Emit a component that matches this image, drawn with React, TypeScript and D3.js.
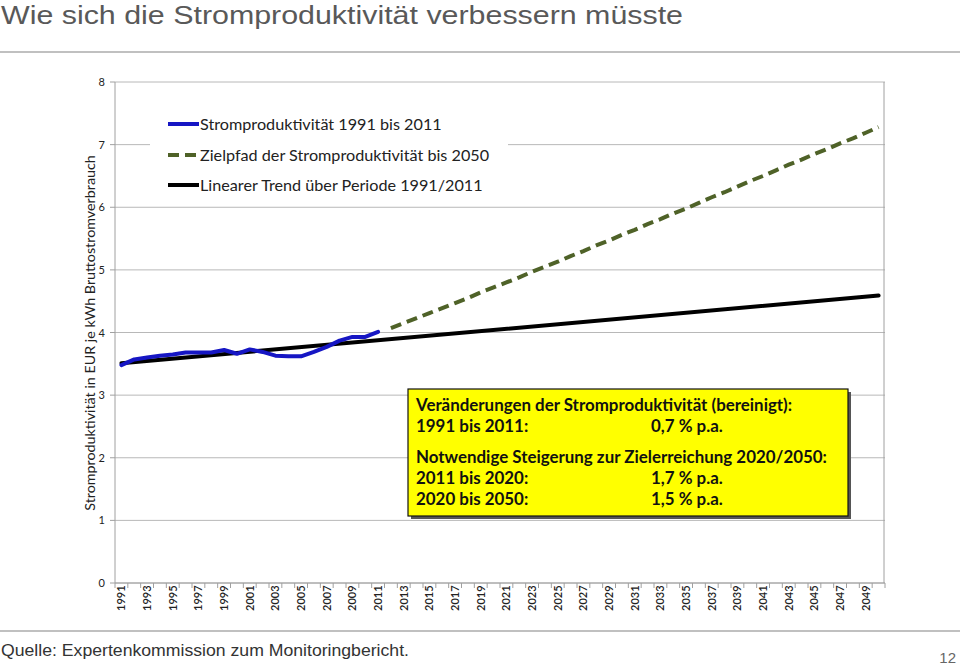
import React from "react";
import * as d3 from "d3";

const years: number[] = d3.range(1991, 2051);
const yTicks = [0, 1, 2, 3, 4, 5, 6, 7, 8];
const xLabelYears = years.filter((y) => (y - 1991) % 2 === 0);

const actualYears = [1991, 1992, 1993, 1994, 1995, 1996, 1997, 1998, 1999, 2000, 2001, 2002, 2003, 2004, 2005, 2006, 2007, 2008, 2009, 2010, 2011];
const actualValues = [3.48, 3.57, 3.6, 3.63, 3.65, 3.68, 3.68, 3.68, 3.72, 3.66, 3.73, 3.69, 3.63, 3.62, 3.62, 3.69, 3.77, 3.87, 3.93, 3.93, 4.01];

const targetYears = [2012, 2013, 2014, 2015, 2016, 2017, 2018, 2019, 2020, 2021, 2022, 2023, 2024, 2025, 2026, 2027, 2028, 2029, 2030, 2031, 2032, 2033, 2034, 2035, 2036, 2037, 2038, 2039, 2040, 2041, 2042, 2043, 2044, 2045, 2046, 2047, 2048, 2049, 2050];
const targetValues = [4.07, 4.15, 4.23, 4.31, 4.39, 4.47, 4.55, 4.64, 4.72, 4.8, 4.88, 4.97, 5.05, 5.13, 5.22, 5.3, 5.39, 5.47, 5.56, 5.64, 5.73, 5.81, 5.9, 5.98, 6.07, 6.16, 6.24, 6.33, 6.42, 6.5, 6.59, 6.68, 6.76, 6.85, 6.93, 7.02, 7.1, 7.19, 7.28];

const trendYears = [1991, 2050];
const trendValues = [3.51, 4.59];

const legendLabels = [
  "Stromproduktivität 1991 bis 2011",
  "Zielpfad der Stromproduktivität bis 2050",
  "Linearer Trend über Periode 1991/2011",
];

const boxLines: [string, string][] = [
  ["Veränderungen der Stromproduktivität (bereinigt):", ""],
  ["1991 bis 2011:", "0,7 % p.a."],
  ["Notwendige Steigerung zur Zielerreichung 2020/2050:", ""],
  ["2011 bis 2020:", "1,7 % p.a."],
  ["2020 bis 2050:", "1,5 % p.a."],
];

const BLUE = "#1616c4";
const GREEN = "#4f6228";
const FONT = "Lato, 'Open Sans', sans-serif";

export default function App() {
  const W = 960, H = 668;
  const left = 115, right = 885, top = 82, bottom = 583;
  const x = d3.scaleBand<number>().domain(years).range([left, right]);
  const cx = (yr: number) => (x(yr) as number) + x.bandwidth() / 2;
  const y = d3.scaleLinear().domain([0, 8]).range([bottom, top]);

  const line = d3.line<[number, number]>().x((d) => cx(d[0])).y((d) => y(d[1]));
  const actualPath = line(actualYears.map((yr, i) => [yr, actualValues[i]]));
  const targetPath = line(targetYears.map((yr, i) => [yr, targetValues[i]]));
  const trendPath = line(trendYears.map((yr, i) => [yr, trendValues[i]]));

  const boundaries = d3.range(years.length + 1).map((i) => left + i * x.step());

  const legendY = [124, 155, 185];
  const boxX = 408, boxY = 389, boxW = 440, boxH = 127;
  const lineYs = [411, 432, 463, 484, 505];

  return (
    <svg width={W} height={H} style={{ position: "absolute", left: 0, top: 0, background: "#fff" }}>
      <rect x={0} y={0} width={W} height={H} fill="#fff" />
      {/* Title */}
      <text x={1} y={23.5} fontFamily="'Liberation Sans', Arial, sans-serif" fontSize={25.5} fill="#595959" textLength={682} lengthAdjust="spacingAndGlyphs">
        Wie sich die Stromproduktivität verbessern müsste
      </text>
      <line x1={0} x2={960} y1={52} y2={52} stroke="#c0c0c0" strokeWidth={2} />
      {/* Gridlines */}
      {yTicks.map((t) => (
        <line key={"g" + t} x1={left} x2={right} y1={y(t)} y2={y(t)} stroke="#b8b8b8" strokeWidth={1} />
      ))}
      {/* Plot border */}
      <line x1={right - 1} x2={right - 1} y1={top} y2={bottom} stroke="#a0a0a0" strokeWidth={1} />
      <line x1={left} x2={left} y1={top} y2={bottom} stroke="#a0a0a0" strokeWidth={1} />
      {yTicks.map((t) => (
        <g key={"yt" + t}>
          <line x1={left - 5} x2={left} y1={y(t)} y2={y(t)} stroke="#a0a0a0" />
          <text x={left - 10} y={y(t) + 4} textAnchor="end" fontFamily={FONT} fontSize={11} fill="#222">
            {t}
          </text>
        </g>
      ))}
      {/* X axis */}
      <line x1={left} x2={right} y1={bottom} y2={bottom} stroke="#a0a0a0" />
      {boundaries.map((bx, i) => (
        <line key={"xt" + i} x1={bx} x2={bx} y1={bottom} y2={bottom + 5} stroke="#a0a0a0" />
      ))}
      {xLabelYears.map((yr) => (
        <text key={"xl" + yr} transform={`translate(${cx(yr) + 4},${611}) rotate(-90)`} fontFamily={FONT} fontSize={11} fill="#222" fontWeight={600}>
          {yr}
        </text>
      ))}
      {/* Y axis title */}
      <text transform={`translate(95,${333}) rotate(-90)`} textAnchor="middle" fontFamily={FONT} fontSize={14.3} fill="#222">
        Stromproduktivität in EUR je kWh Bruttostromverbrauch
      </text>
      {/* Legend background */}
      <rect x={150} y={105} width={358} height={95} fill="#fff" />
      {/* Series */}
      <path d={trendPath || ""} fill="none" stroke="#000" strokeWidth={4} strokeLinecap="round" />
      <path d={actualPath || ""} fill="none" stroke={BLUE} strokeWidth={4} strokeLinejoin="round" strokeLinecap="round" />
      <path d={targetPath || ""} fill="none" stroke={GREEN} strokeWidth={4} strokeDasharray="11 6" />
      {/* Legend */}
      {legendLabels.map((lab, i) => (
        <g key={"lg" + i}>
          {i === 1 ? (
            <line x1={168} x2={198} y1={legendY[i]} y2={legendY[i]} stroke={GREEN} strokeWidth={4} strokeDasharray="11 6" />
          ) : (
            <line x1={168} x2={199} y1={legendY[i]} y2={legendY[i]} stroke={i === 0 ? BLUE : "#000"} strokeWidth={4} />
          )}
          <text x={200} y={legendY[i] + 5.5} fontFamily={FONT} fontSize={16.2} fill="#222">
            {lab}
          </text>
        </g>
      ))}
      {/* Text box */}
      <rect x={boxX + 3} y={boxY + 3} width={boxW} height={boxH} fill="#555" />
      <rect x={boxX} y={boxY} width={boxW} height={boxH} fill="#ffff00" stroke="#111" strokeWidth={1.2} />
      {boxLines.map((l, i) => (
        <g key={"bx" + i}>
          <text x={boxX + 8} y={lineYs[i]} fontFamily={FONT} fontWeight={700} fontSize={16.9} fill="#111">
            {l[0]}
          </text>
          {l[1] && (
            <text x={651} y={lineYs[i]} fontFamily={FONT} fontWeight={700} fontSize={16.9} fill="#111">
              {l[1]}
            </text>
          )}
        </g>
      ))}
      {/* Footer */}
      <line x1={0} x2={960} y1={631} y2={631} stroke="#c0c0c0" strokeWidth={2} />
      <text x={1} y={656} fontFamily="'Liberation Sans', Arial, sans-serif" fontSize={17} fill="#333" textLength={408} lengthAdjust="spacingAndGlyphs">
        Quelle: Expertenkommission zum Monitoringbericht.
      </text>
      <text x={956} y={663} textAnchor="end" fontFamily="'Liberation Sans', Arial, sans-serif" fontSize={15} fill="#666">
        12
      </text>
    </svg>
  );
}
